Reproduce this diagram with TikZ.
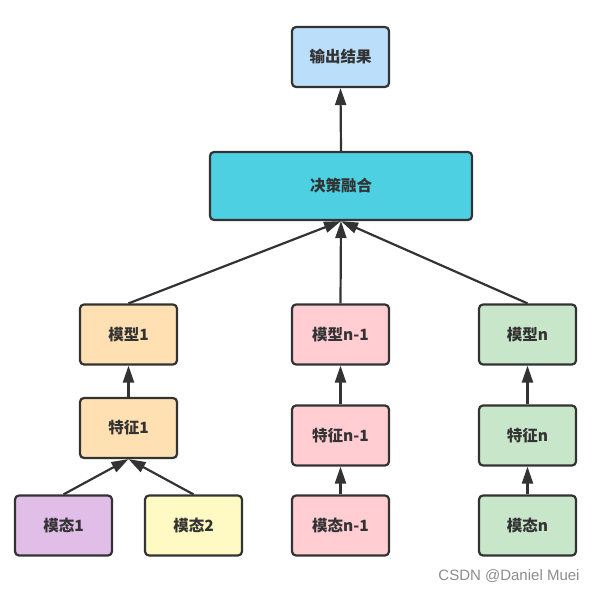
\documentclass[tikz,border=0pt]{standalone}
\usepackage{fontspec}
\newfontfamily\cjk{Noto Sans CJK SC}
\newfontfamily\markfont{Liberation Sans}
\usetikzlibrary{arrows.meta}

\definecolor{linegray}{HTML}{333333}
\definecolor{outblue}{HTML}{BBDEFB}
\definecolor{fusecyan}{HTML}{4DD0E1}
\definecolor{modelorange}{HTML}{FFE0B2}
\definecolor{modelpink}{HTML}{FFCDD2}
\definecolor{modelgreen}{HTML}{C8E6C9}
\definecolor{modalpurple}{HTML}{E1BEE7}
\definecolor{modalyellow}{HTML}{FFF9C4}

\begin{document}
\begin{tikzpicture}[
                % one unit is one pixel of the reference, y grows downwards
                x=1pt, y=-1pt,
                box/.style = {draw=linegray, line width=2.2pt, rounded corners=4pt,
                              minimum width=97pt, minimum height=60pt, inner sep=0pt,
                              text=linegray, font=\cjk\bfseries\fontsize{15.5}{18}\selectfont},
                arrow/.style = {draw=linegray, line width=2.2pt, -{Triangle[length=17pt 0,width=11pt 0]}},
                watermark text/.style = {text=black!45, font=\markfont\fontsize{15}{18}\selectfont}
            ]
            \useasboundingbox (0,0) rectangle (598,591);
            % First the boxes
            \node[box, fill=outblue] (out) at (340.5,57) {输出结果};
            \node[box, fill=fusecyan, minimum width=262pt, minimum height=68pt] (fuse) at (341,186) {决策融合};
            \foreach \pos/\name/\col/\txt in {
                {(128.5,334.5)/m1/modelorange/模型1}, {(340.5,334.5)/mn1/modelpink/模型n-1}, {(527.5,334.5)/mn/modelgreen/模型n},
                {(128.5,428)/f1/modelorange/特征1}, {(340.5,435.5)/fn1/modelpink/特征n-1}, {(527.5,435.5)/fn/modelgreen/特征n},
                {(63.5,525.5)/d1/modalpurple/模态1}, {(193.5,525.5)/d2/modalyellow/模态2},
                {(340.5,525.5)/dn1/modelpink/模态n-1}, {(527.5,525.5)/dn/modelgreen/模态n}}
                \node[box, fill=\col] (\name) at \pos {\txt};
            % Connect the boxes upwards
            \foreach \source/\dest in {fuse/out, m1/fuse, mn1/fuse, mn/fuse,
                                       f1/m1, fn1/mn1, fn/mn,
                                       d1/f1, d2/f1, dn1/fn1, dn/fn}
                \path[arrow] (\source.north) -- (\dest.south);
            \node[watermark text] (watermark) at (509,576) {CSDN @Daniel Muei};
        \end{tikzpicture}
\end{document}
